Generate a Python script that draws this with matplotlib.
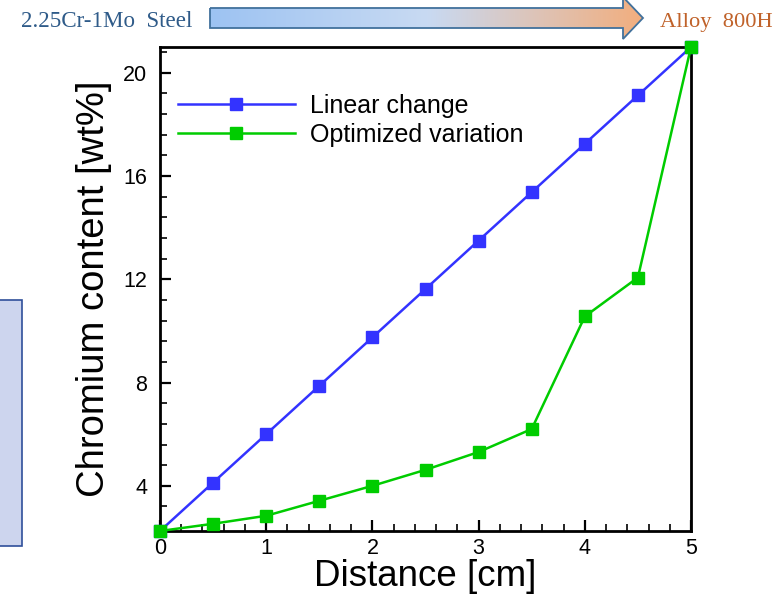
import numpy as np
import matplotlib
matplotlib.use("Agg")
import matplotlib.pyplot as plt
from matplotlib.patches import Polygon, Rectangle
from matplotlib.ticker import MultipleLocator

# ---- data ----
distance = [0, 0.5, 1.0, 1.5, 2.0, 2.5, 3.0, 3.5, 4.0, 4.5, 5.0]
linear_change = [2.25, 4.125, 6.0, 7.875, 9.75, 11.625, 13.5, 15.375, 17.25, 19.125, 21.0]
optimized_variation = [2.25, 2.53, 2.84, 3.42, 4.0, 4.62, 5.31, 6.2, 10.56, 12.07, 21.0]
series_labels = ["Linear change", "Optimized variation"]
x_ticks = [0, 1, 2, 3, 4, 5]
y_ticks = [4, 8, 12, 16, 20]
left_label = "2.25Cr-1Mo  Steel"
right_label = "Alloy  800H"

W, H = 773, 595
fig = plt.figure(figsize=(W / 100, H / 100), dpi=100)
plt.rcParams['font.family'] = ['Liberation Sans', 'DejaVu Sans']

# overlay axes in pixel coords for decorations
deco = fig.add_axes([0, 0, 1, 1])
deco.set_xlim(0, W)
deco.set_ylim(H, 0)
deco.axis('off')

# left partial box
deco.add_patch(Rectangle((-5, 300), 27, 246, facecolor='#CDD5EE', edgecolor='#2F4F9A', lw=1.2))

# gradient arrow
arrow_pts = [(210, 8), (623, 8), (623, -3), (643, 18), (623, 39), (623, 28), (210, 28)]
poly = Polygon(arrow_pts, closed=True, facecolor='none', edgecolor='#41719C', lw=1.3, zorder=3)
deco.add_patch(poly)
c_left = np.array([0x9D, 0xC3, 0xF2]) / 255
c_mid = np.array([0xC8, 0xDA, 0xF3]) / 255
c_right = np.array([0xF2, 0xAE, 0x7E]) / 255
t = np.linspace(0, 1, 256)
grad = np.zeros((2, 256, 3))
for i, tt in enumerate(t):
    if tt < 0.5:
        c = c_left + (c_mid - c_left) * (tt / 0.5)
    else:
        c = c_mid + (c_right - c_mid) * ((tt - 0.5) / 0.5)
    grad[:, i, :] = c
im = deco.imshow(grad, extent=(210, 643, 39, -3), aspect='auto', zorder=2, interpolation='bilinear')
clip = Polygon(arrow_pts, closed=True, transform=deco.transData, facecolor='none', edgecolor='none')
deco.add_patch(clip)
im.set_clip_path(clip)
deco.set_xlim(0, W)
deco.set_ylim(H, 0)

deco.text(21, 27, left_label, fontsize=16.6, color='#2F5B89', family='Liberation Serif', va='baseline', ha='left')
deco.text(660, 27, right_label, fontsize=16.2, color='#C0622A', family='Liberation Serif', va='baseline', ha='left')

# main axes
ax = fig.add_axes([160 / W, 1 - 531 / H, (691 - 160) / W, (531 - 47) / H])
ax.plot(distance, linear_change, color='#3333FF', lw=1.8, marker='s', ms=9, clip_on=False, zorder=3,
        label=series_labels[0])
ax.plot(distance, optimized_variation, color='#00CC00', lw=1.8, marker='s', ms=9, clip_on=False, zorder=4,
        label=series_labels[1])
ax.set_xlim(0, 5)
ax.set_ylim(2.25, 21)
ax.set_xticks(x_ticks)
ax.set_yticks(y_ticks)
ax.xaxis.set_minor_locator(MultipleLocator(0.2))
ax.yaxis.set_minor_locator(MultipleLocator(0.8))
ax.tick_params(which='both', direction='in', top=False, right=False, labelsize=15.5, width=1.6)
ax.tick_params(which='major', length=8)
ax.tick_params(which='minor', length=5, width=1.2)
ax.tick_params(axis='x', which='major', pad=5)
ax.tick_params(axis='y', which='major', pad=9)
for s in ax.spines.values():
    s.set_linewidth(2)
ax.set_xlabel("Distance [cm]", fontsize=26.5, labelpad=0)
ax.set_ylabel("Chromium content [wt%]", fontsize=27.5, labelpad=8)

leg = ax.legend(loc='upper left', bbox_to_anchor=(0.0, 0.94), frameon=False, fontsize=18,
                handlelength=4.7, handletextpad=0.6, labelspacing=0.2, borderaxespad=0.3)

fig.savefig("out.png", dpi=100)
